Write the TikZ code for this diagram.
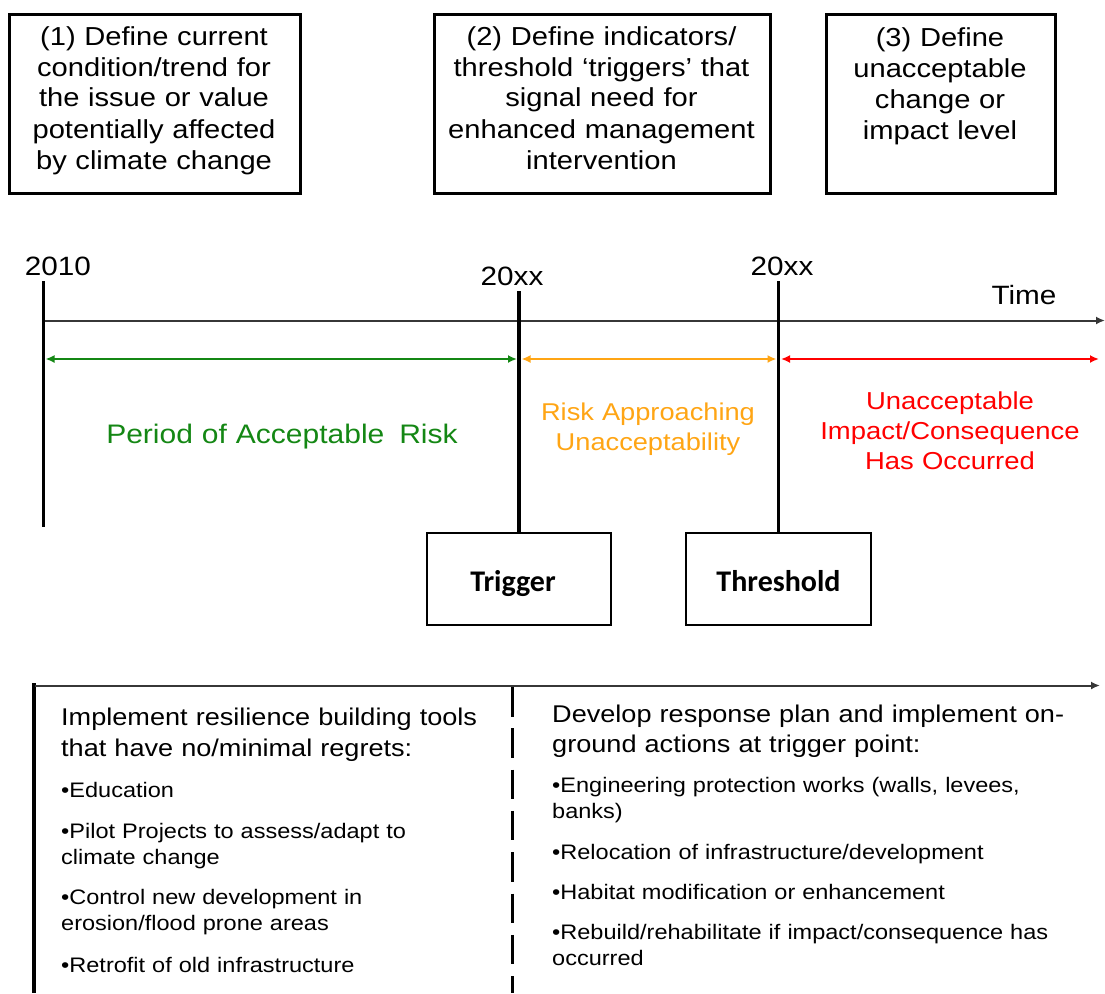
\documentclass[tikz,border=0pt]{standalone}
\usepackage{fontspec}
\setmainfont{Liberation Sans}
\newfontfamily\wf[FakeStretch=1.12]{Liberation Sans}
\newfontfamily\cb{Carlito}
\usetikzlibrary{arrows.meta}
\definecolor{cgreen}{RGB}{20,135,20}
\definecolor{corange}{RGB}{255,165,20}
\definecolor{cred}{RGB}{255,0,0}
\definecolor{axisgray}{RGB}{55,55,55}
\begin{document}
\begin{tikzpicture}[x=1pt,y=-1pt,
  topbox/.style={draw=black,line width=3pt,minimum height=179pt,inner sep=0pt},
  toptext/.style={text width=#1,align=center,inner sep=0pt,anchor=base,
    font={\wf\fontsize{26}{31}\selectfont}},
  markbox/.style={draw=black,line width=2pt,minimum width=184pt,minimum height=92pt,
    inner sep=0pt,text height=24pt,text depth=0pt,
    font={\cb\bfseries\fontsize{30}{36}\selectfont}},
  yearlbl/.style={inner sep=0pt,anchor=base,font={\wf\fontsize{26.5}{30}\selectfont}},
  tick/.style={draw=black,line width=3.5pt},
  axisline/.style={draw=axisgray,line width=2pt,-{Latex[length=9pt,width=8pt]}},
  period/.style={line width=2.6pt,{Latex[length=9pt,width=8pt]}-{Latex[length=9pt,width=8pt]}},
  zonetext/.style={inner sep=0pt,anchor=base,align=center,text width=#1},
  headtext/.style={inner sep=0pt,anchor=base west,align=left,text width=#1,
    font={\wf\fontsize{24.2}{30.5}\selectfont}},
  bullettext/.style={inner sep=0pt,anchor=base west,align=left,text width=#1,
    font={\wf\fontsize{21}{26.5}\selectfont}}
]
\useasboundingbox (0,0) rectangle (1105,993);

% top boxes
\node[topbox,minimum width=291pt] (b1) at (155,104) {};
\node[topbox,minimum width=336pt] (b2) at (602.5,104) {};
\node[topbox,minimum width=229pt] (b3) at (941,104) {};
\node[toptext=285pt] (b1t) at (154,45) {(1) Define current\\condition/trend for\\the issue or value\\potentially affected\\by climate change};
\node[toptext=330pt] (b2t) at (601.5,45) {(2) Define indicators/\\threshold ‘triggers’ that\\signal need for\\enhanced management\\intervention};
\node[toptext=225pt] (b3t) at (940,46) {(3) Define\\unacceptable\\change or\\impact level};

% year labels
\node[yearlbl] (y0) at (58,275) {2010};
\node[yearlbl] (y1) at (512,285) {20xx};
\node[yearlbl] (y2) at (782,275) {20xx};
\node[yearlbl] (time) at (1024,304) {Time};

% trigger / threshold boxes
\node[markbox] (trig) at (519,579) {\hspace{-12pt}Trigger};
\node[markbox,minimum width=185pt] (thr) at (778.5,579) {Threshold};

% time axis
\coordinate (ax0) at (43,320.5);
\coordinate (ax1) at (1105,320.5);
\draw[axisline] (ax0) -- (ax1);

% vertical markers
\coordinate (t0top) at (43.5,281);
\coordinate (t0bot) at (43.5,527);
\coordinate (t1top) at (519,291);
\coordinate (t2top) at (778.5,281);
\draw[tick] (t0top) -- (t0bot);
\draw[tick] (t1top) -- (trig.north);
\draw[tick] (t2top) -- (thr.north);

% period arrows
\coordinate (g0) at (45.5,359);
\coordinate (g1) at (517,359);
\coordinate (o0) at (521.5,359);
\coordinate (o1) at (776.5,359);
\coordinate (r0) at (781,359);
\coordinate (r1) at (1099,359);
\draw[period,cgreen] (g0) -- (g1);
\draw[period,corange] (o0) -- (o1);
\draw[period,cred] (r0) -- (r1);

% zone texts
\node[zonetext=400pt,text=cgreen,font={\wf\fontsize{26.8}{30}\selectfont}] (ztg) at (282,443) {Period of Acceptable\hspace{6pt} Risk};
\node[zonetext=250pt,text=corange,font={\wf\fontsize{24.3}{30}\selectfont}] (zto) at (648,420) {Risk Approaching\\Unacceptability};
\node[zonetext=300pt,text=cred,font={\wf\fontsize{24.5}{30}\selectfont}] (ztr) at (950,409) {Unacceptable\\Impact/Consequence\\Has Occurred};

% bottom frame
\coordinate (bl0) at (34,683);
\coordinate (bl1) at (34,993);
\coordinate (bh0) at (35,685.5);
\coordinate (bh1) at (1100,685.5);
\coordinate (bd0) at (512.5,687);
\coordinate (bd1) at (512.5,993);
\draw[tick] (bl0) -- (bl1);
\draw[axisline] (bh0) -- (bh1);
\draw[draw=black,line width=3.5pt,dash pattern=on 29.5pt off 11.8pt] (bd0) -- (bd1);

% left column
\node[headtext=440pt] (lh) at (61,725.7) {Implement resilience building tools\\that have no/minimal regrets:};
\node[bullettext=440pt] (lb1) at (61,797) {•Education};
\node[bullettext=440pt] (lb2) at (61,838) {•Pilot Projects to assess/adapt to\\climate change};
\node[bullettext=440pt] (lb3) at (61,904) {•Control new development in\\erosion/flood prone areas};
\node[bullettext=440pt] (lb4) at (61,972) {•Retrofit of old infrastructure};

% right column
\node[headtext=540pt] (rh) at (552,722) {Develop response plan and implement on-\\ground actions at trigger point:};
\node[bullettext=540pt] (rb1) at (552,792) {•Engineering protection works (walls, levees,\\banks)};
\node[bullettext=540pt] (rb2) at (552,859) {•Relocation of infrastructure/development};
\node[bullettext=540pt] (rb3) at (552,899) {•Habitat modification or enhancement};
\node[bullettext=540pt] (rb4) at (552,939) {•Rebuild/rehabilitate if impact/consequence has\\occurred};
\end{tikzpicture}
\end{document}
